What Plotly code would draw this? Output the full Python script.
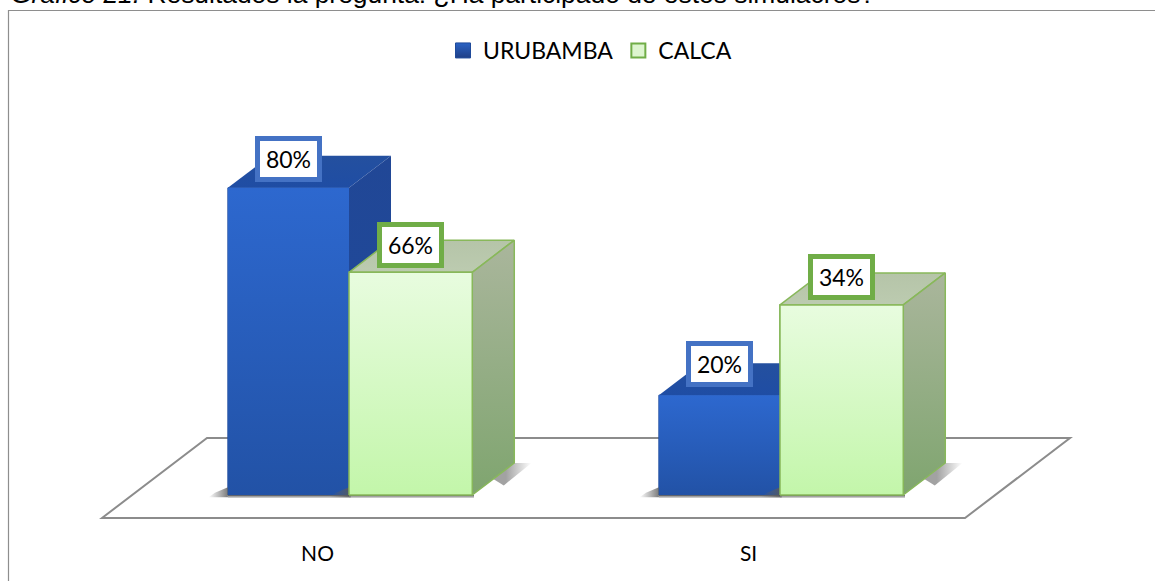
import plotly.graph_objects as go

# ---- chart data ----
categories = ["NO", "SI"]
series_names = ["URUBAMBA", "CALCA"]
labels_urubamba = ["80%", "20%"]
labels_calca = ["66%", "34%"]
# Drawn heights (the 3-D bars are not proportional to their labels)
heights_urubamba = [80, 26]
heights_calca = [58, 49.5]
title_text = "<i>Gráfico 21.</i> Resultados la pregunta: ¿Ha participado de estos simulacros?"

# ---- page / scale ----
W, H = 1155, 581
PLOT_B = 535
X_PX = 431.0          # px per category step
Y_PX = 3.84           # px per drawn unit
X0_PX, Y0_PX = 349, 495
xr = [-X0_PX / X_PX, (W - X0_PX) / X_PX]
yr = [-(PLOT_B - Y0_PX) / Y_PX, Y0_PX / Y_PX]
bw_u, bw_c = 0.281, 0.286
dx, dy = 42 / X_PX, 32 / Y_PX

fig = go.Figure()
pos = list(range(len(categories)))


def poly(xs, ys, colors, line=None, orient="vertical", lw=1, start=None, stop=None):
    grad = dict(type=orient, colorscale=[[0, colors[0]], [1, colors[1]]])
    if start is not None:
        grad.update(start=start, stop=stop)
    fig.add_trace(go.Scatter(
        x=xs + xs[:1], y=ys + ys[:1], mode="lines", fill="toself", showlegend=False, hoverinfo="skip",
        line=dict(color=line or "rgba(0,0,0,0)", width=lw if line else 0),
        fillgradient=grad))


# native bars (base of the front faces)
fig.add_trace(go.Bar(x=pos, y=heights_urubamba, width=bw_u, offset=-bw_u, showlegend=False,
                     marker=dict(color="#2860C0", line=dict(color="#1F4A9A", width=1)), hoverinfo="skip"))
fig.add_trace(go.Bar(x=pos, y=heights_calca, width=bw_c, offset=0, showlegend=False,
                     marker=dict(color="#D8F8C8", line=dict(color="#70AD47", width=1.5)), hoverinfo="skip"))
# legend entries
fig.add_trace(go.Scatter(x=[None], y=[None], mode="markers", name=series_names[0], hoverinfo="skip",
                         marker=dict(symbol="square", size=15, color="#2A62C4",
                                     gradient=dict(type="vertical", color="#1F3F86"),
                                     line=dict(color="#1F4A9A", width=1))))
fig.add_trace(go.Scatter(x=[None], y=[None], mode="markers", name=series_names[1], hoverinfo="skip",
                         marker=dict(symbol="square", size=14, color="#DDF5CF",
                                     line=dict(color="#70AD47", width=2))))


def shadow(left, right):
    gray = "rgba(90,90,90,0.8)"
    soft = "rgba(100,100,100,0.6)"
    clear = "rgba(100,100,100,0)"
    # soft shadow left of the bar, under its front edge, and behind the side face
    poly([left - 0.045, left, left, left - 0.03], [-0.6, -0.6, 2.0, 0.6], [clear, gray], orient="horizontal")
    poly([left, right + 0.004, right + 0.004, left], [0, 0, -0.8, -0.8],
         ["rgba(110,110,110,0.25)", "rgba(80,80,80,0.9)"], orient="vertical")
    poly([right + dx * 0.5, right + dx, right + dx + 0.04, right + dx * 0.75],
         [dy * 0.5, dy, dy, dy * 0.3], [soft, clear], orient="horizontal",
         start=right + dx * 0.8, stop=right + dx + 0.04)


def box(left, right, h, front, top, side, edge=None, lw=1, drop=True):
    if drop:
        shadow(left, right)
    poly([left, left + dx, right + dx, right], [h, h + dy, h + dy, h], top, line=edge, lw=lw)
    poly([right, right + dx, right + dx, right], [0, dy, h + dy, h], side, line=edge, lw=lw)
    poly([left, right, right, left], [0, 0, h, h], front, line=edge, lw=lw)


for i in pos:
    box(i - bw_u, i, heights_urubamba[i],
        ["#2252A6", "#2D68CF"], ["#1F4DA4", "#24509F"], ["#1D4A9C", "#214796"])
    box(i, i + bw_c, heights_calca[i],
        ["#C3F6AA", "#E8FCDF"], ["#BCCBB0", "#B5C4A8"], ["#7FA56F", "#AAB69C"],
        edge="#88B85A", lw=1.5)

# data labels
shift_u = [29, 31.5]
shift_c = [27.5, 28]
for i in pos:
    for xc, h, t, c, s in [(i - bw_u / 2, heights_urubamba[i], labels_urubamba[i], "#4472C4", shift_u[i]),
                           (i + bw_c / 2, heights_calca[i], labels_calca[i], "#70AD47", shift_c[i])]:
        fig.add_annotation(x=xc, y=h, yshift=s, text=t, showarrow=False,
                           font=dict(family="Lato", size=23, color="#000"),
                           bgcolor="#fff", bordercolor=c, borderwidth=5, borderpad=3,
                           width=51, height=30, align="center", valign="middle")

# title (cropped by the top of the page, as in the source)
fig.add_annotation(xref="paper", yref="paper", x=10 / W, y=(PLOT_B - 10) / PLOT_B,
                   xanchor="left", yanchor="bottom", text=title_text, showarrow=False,
                   font=dict(family="Liberation Sans", size=26.4, color="#000"), borderpad=0)

# floor + frame
FRONT, BACK = -23 / Y_PX, 57 / Y_PX
floor_x = [-247 / X_PX, -142 / X_PX, 721 / X_PX, 616 / X_PX]
floor_y = [FRONT, BACK, BACK, FRONT]
path = "M " + " L ".join(f"{a},{b}" for a, b in zip(floor_x, floor_y)) + " Z"
fig.add_shape(type="path", path=path, xref="x", yref="y", layer="below",
              line=dict(color="#8C8C8C", width=2), fillcolor="#fff")
top_f = (PLOT_B - 10.5) / PLOT_B
bot_f = (PLOT_B - H) / PLOT_B
fig.add_shape(type="path", xref="paper", yref="paper", layer="below",
              path=f"M {8.5 / W},{bot_f} L {8.5 / W},{top_f} L 1,{top_f}",
              line=dict(color="#8E8E8E", width=1.2))

fig.update_layout(
    width=W, height=H, margin=dict(l=0, r=0, t=0, b=H - PLOT_B),
    paper_bgcolor="#fff", plot_bgcolor="rgba(0,0,0,0)", barmode="overlay",
    showlegend=True,
    legend=dict(orientation="h", x=443 / W, xanchor="left", y=(PLOT_B - 29) / PLOT_B, yanchor="top",
                font=dict(family="Lato", size=23, color="#000"), traceorder="normal",
                bgcolor="rgba(0,0,0,0)", itemwidth=30, itemsizing="trace"),
    xaxis=dict(range=xr, tickmode="array", tickvals=[p - 0.073 for p in pos], ticktext=categories,
               showgrid=False, zeroline=False, showline=False, ticks="",
               tickfont=dict(family="Lato", size=21, color="#000"), ticklabelstandoff=4),
    yaxis=dict(range=yr, visible=False, showgrid=False, zeroline=False),
)
fig.write_html("out.html", config=dict(displayModeBar=False),
               post_script="document.body.style.margin='0';")
